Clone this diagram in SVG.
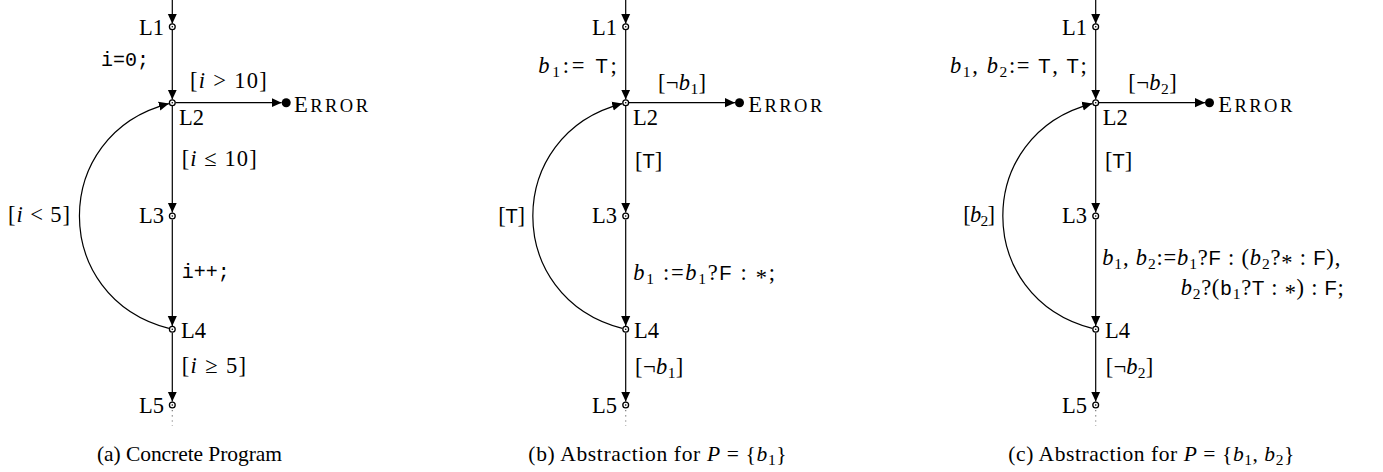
<svg xmlns="http://www.w3.org/2000/svg" width="1383" height="472" viewBox="0 0 1383 472">
<style>
text{font-family:"Liberation Serif","Times New Roman",serif;font-size:22.5px;fill:#000}
.it{font-style:italic}
.sf{font-family:"Liberation Sans",Arial,sans-serif;font-size:20px}
.tt{font-family:"Liberation Mono","Courier New",monospace;font-size:20px}
.sub{font-size:15.5px}
.sc{font-size:18.5px}
.cap{font-size:21.5px}
.edge{fill:none;stroke:#000;stroke-width:1.2}
.dots{fill:none;stroke:#777;stroke-width:1.2;stroke-dasharray:1.2 4}
.loc{fill:#fff;stroke:#000;stroke-width:1.3}
.ctr{fill:#000}
</style>
<defs>
<marker id="arr" viewBox="0 -5 10 10" refX="10" refY="0" markerWidth="10" markerHeight="10" markerUnits="userSpaceOnUse" orient="auto">
<path d="M0,-4.6 L10,0 L0,4.6 Z" fill="#000"/>
</marker>
</defs>

<!-- ===== Panel (a) ===== -->
<g id="connectors-a">
<path class="edge" d="M172.3,0 V23.7" marker-end="url(#arr)"/>
<path class="edge" d="M172.3,30 V99.5" marker-end="url(#arr)"/>
<path class="edge" d="M172.3,106 V212.6" marker-end="url(#arr)"/>
<path class="edge" d="M172.3,219.5 V325.9" marker-end="url(#arr)"/>
<path class="edge" d="M172.3,332.8 V401.6" marker-end="url(#arr)"/>
<path class="edge" d="M175.6,102.7 H281.6" marker-end="url(#arr)"/>
<path class="edge" d="M168.9,328.4 C49.6,297.7 49.6,134.3 168.9,103.6" marker-end="url(#arr)"/>
<path class="dots" d="M172.3,410 V426"/>
<text class="tt" x="149" y="66" text-anchor="end">i=0;</text>
<text x="190" y="88" textLength="76.7">[<tspan class="it">i</tspan> &gt; 10]</text>
<text x="181.7" y="166" textLength="75">[<tspan class="it">i</tspan> ≤ 10]</text>
<text class="tt" x="181.7" y="278">i++;</text>
<text x="181.7" y="373" textLength="64.3">[<tspan class="it">i</tspan> ≥ 5]</text>
<text x="70" y="222" text-anchor="end" textLength="62">[<tspan class="it">i</tspan> &lt; 5]</text>
</g>
<g id="a-L1"><circle class="loc" cx="172.3" cy="26.7" r="2.9"/><circle class="ctr" cx="172.3" cy="26.7" r="0.8"/><text x="164" y="35" text-anchor="end">L1</text></g>
<g id="a-L2"><circle class="loc" cx="172.3" cy="102.7" r="2.9"/><circle class="ctr" cx="172.3" cy="102.7" r="0.8"/><text x="179" y="125">L2</text></g>
<g id="a-L3"><circle class="loc" cx="172.3" cy="216" r="2.9"/><circle class="ctr" cx="172.3" cy="216" r="0.8"/><text x="164" y="223.3" text-anchor="end">L3</text></g>
<g id="a-L4"><circle class="loc" cx="172.3" cy="329.3" r="2.9"/><circle class="ctr" cx="172.3" cy="329.3" r="0.8"/><text x="181" y="337.7">L4</text></g>
<g id="a-L5"><circle class="loc" cx="172.3" cy="405" r="2.9"/><circle class="ctr" cx="172.3" cy="405" r="0.8"/><text x="164" y="413.3" text-anchor="end">L5</text></g>
<g id="a-error"><circle cx="286.2" cy="102.7" r="4.5" fill="#000"/><text x="294" y="111.7" textLength="74">E<tspan class="sc">RROR</tspan></text></g>
<text class="cap" x="97" y="461" textLength="185">(a) Concrete Program</text>

<!-- ===== Panel (b) ===== -->
<g id="connectors-b">
<path class="edge" d="M625.7,0 V23.7" marker-end="url(#arr)"/>
<path class="edge" d="M625.7,30 V99.5" marker-end="url(#arr)"/>
<path class="edge" d="M625.7,106 V212.6" marker-end="url(#arr)"/>
<path class="edge" d="M625.7,219.5 V325.9" marker-end="url(#arr)"/>
<path class="edge" d="M625.7,332.8 V401.6" marker-end="url(#arr)"/>
<path class="edge" d="M629,102.7 H735" marker-end="url(#arr)"/>
<path class="edge" d="M622.3,328.4 C503,297.7 503,134.3 622.3,103.6" marker-end="url(#arr)"/>
<path class="dots" d="M625.7,410 V426"/>
<text x="616.7" y="73.3" text-anchor="end" textLength="78.4"><tspan class="it">b</tspan><tspan class="sub" dy="4">1</tspan><tspan dy="-4">:= </tspan><tspan class="sf">T</tspan>;</text>
<text x="658" y="90" textLength="48">[¬<tspan class="it">b</tspan><tspan class="sub" dy="4">1</tspan><tspan dy="-4">]</tspan></text>
<text x="635" y="167.5" textLength="27.3">[<tspan class="sf">T</tspan>]</text>
<text x="525" y="222.5" text-anchor="end" textLength="26.7">[<tspan class="sf">T</tspan>]</text>
<text x="633.3" y="280" textLength="141.7"><tspan class="it">b</tspan><tspan class="sub" dy="4">1</tspan><tspan dy="-4"> :=</tspan><tspan class="it">b</tspan><tspan class="sub" dy="4">1</tspan><tspan dy="-4">?</tspan><tspan class="sf">F</tspan> : <tspan dy="5">*</tspan><tspan dy="-5">;</tspan></text>
<text x="635" y="374" textLength="48.3">[¬<tspan class="it">b</tspan><tspan class="sub" dy="4">1</tspan><tspan dy="-4">]</tspan></text>
</g>
<g id="b-L1"><circle class="loc" cx="625.7" cy="26.7" r="2.9"/><circle class="ctr" cx="625.7" cy="26.7" r="0.8"/><text x="617" y="35" text-anchor="end">L1</text></g>
<g id="b-L2"><circle class="loc" cx="625.7" cy="102.7" r="2.9"/><circle class="ctr" cx="625.7" cy="102.7" r="0.8"/><text x="633" y="125">L2</text></g>
<g id="b-L3"><circle class="loc" cx="625.7" cy="216" r="2.9"/><circle class="ctr" cx="625.7" cy="216" r="0.8"/><text x="617" y="223.3" text-anchor="end">L3</text></g>
<g id="b-L4"><circle class="loc" cx="625.7" cy="329.3" r="2.9"/><circle class="ctr" cx="625.7" cy="329.3" r="0.8"/><text x="634" y="337.7">L4</text></g>
<g id="b-L5"><circle class="loc" cx="625.7" cy="405" r="2.9"/><circle class="ctr" cx="625.7" cy="405" r="0.8"/><text x="617" y="413.3" text-anchor="end">L5</text></g>
<g id="b-error"><circle cx="739.5" cy="102.7" r="4.5" fill="#000"/><text x="748.3" y="111.7" textLength="74">E<tspan class="sc">RROR</tspan></text></g>
<text class="cap" x="528.3" y="460.5" textLength="258.4">(b) Abstraction for <tspan class="it">P</tspan> = {<tspan class="it">b</tspan><tspan class="sub" dy="4">1</tspan><tspan dy="-4">}</tspan></text>

<!-- ===== Panel (c) ===== -->
<g id="connectors-c">
<path class="edge" d="M1095.7,0 V23.7" marker-end="url(#arr)"/>
<path class="edge" d="M1095.7,30 V99.5" marker-end="url(#arr)"/>
<path class="edge" d="M1095.7,106 V212.6" marker-end="url(#arr)"/>
<path class="edge" d="M1095.7,219.5 V325.9" marker-end="url(#arr)"/>
<path class="edge" d="M1095.7,332.8 V401.6" marker-end="url(#arr)"/>
<path class="edge" d="M1099,102.7 H1205" marker-end="url(#arr)"/>
<path class="edge" d="M1092.3,328.4 C973,297.7 973,134.3 1092.3,103.6" marker-end="url(#arr)"/>
<path class="dots" d="M1095.7,410 V426"/>
<text x="1086.7" y="73.3" text-anchor="end" textLength="136.7"><tspan class="it">b</tspan><tspan class="sub" dy="4">1</tspan><tspan dy="-4">, </tspan><tspan class="it">b</tspan><tspan class="sub" dy="4">2</tspan><tspan dy="-4">:= </tspan><tspan class="sf">T</tspan>, <tspan class="sf">T</tspan>;</text>
<text x="1128.3" y="90" textLength="48.4">[¬<tspan class="it">b</tspan><tspan class="sub" dy="4">2</tspan><tspan dy="-4">]</tspan></text>
<text x="1105" y="167.5" textLength="27.3">[<tspan class="sf">T</tspan>]</text>
<text x="995" y="222" text-anchor="end" textLength="31.7">[<tspan class="it">b</tspan><tspan class="sub" dy="4">2</tspan><tspan dy="-4">]</tspan></text>
<text x="1102.3" y="265" textLength="238"><tspan class="it">b</tspan><tspan class="sub" dy="4">1</tspan><tspan dy="-4">, </tspan><tspan class="it">b</tspan><tspan class="sub" dy="4">2</tspan><tspan dy="-4">:=</tspan><tspan class="it">b</tspan><tspan class="sub" dy="4">1</tspan><tspan dy="-4">?</tspan><tspan class="sf">F</tspan> : (<tspan class="it">b</tspan><tspan class="sub" dy="4">2</tspan><tspan dy="-4">?</tspan><tspan dy="5">*</tspan><tspan dy="-5"> : </tspan><tspan class="sf">F</tspan>),</text>
<text x="1180.7" y="295" textLength="163"><tspan class="it">b</tspan><tspan class="sub" dy="4">2</tspan><tspan dy="-4">?(</tspan><tspan class="tt">b</tspan><tspan class="sub" dy="4">1</tspan><tspan dy="-4">?</tspan><tspan class="sf">T</tspan> : <tspan dy="5">*</tspan><tspan dy="-5">) : </tspan><tspan class="sf">F</tspan>;</text>
<text x="1105.7" y="374" textLength="47.6">[¬<tspan class="it">b</tspan><tspan class="sub" dy="4">2</tspan><tspan dy="-4">]</tspan></text>
</g>
<g id="c-L1"><circle class="loc" cx="1095.7" cy="26.7" r="2.9"/><circle class="ctr" cx="1095.7" cy="26.7" r="0.8"/><text x="1087" y="35" text-anchor="end">L1</text></g>
<g id="c-L2"><circle class="loc" cx="1095.7" cy="102.7" r="2.9"/><circle class="ctr" cx="1095.7" cy="102.7" r="0.8"/><text x="1102.7" y="125">L2</text></g>
<g id="c-L3"><circle class="loc" cx="1095.7" cy="216" r="2.9"/><circle class="ctr" cx="1095.7" cy="216" r="0.8"/><text x="1087" y="223.3" text-anchor="end">L3</text></g>
<g id="c-L4"><circle class="loc" cx="1095.7" cy="329.3" r="2.9"/><circle class="ctr" cx="1095.7" cy="329.3" r="0.8"/><text x="1105" y="337.7">L4</text></g>
<g id="c-L5"><circle class="loc" cx="1095.7" cy="405" r="2.9"/><circle class="ctr" cx="1095.7" cy="405" r="0.8"/><text x="1087" y="413.3" text-anchor="end">L5</text></g>
<g id="c-error"><circle cx="1209.5" cy="102.7" r="4.5" fill="#000"/><text x="1218.3" y="111.7" textLength="74">E<tspan class="sc">RROR</tspan></text></g>
<text class="cap" x="1008.3" y="460.5" textLength="286">(c) Abstraction for <tspan class="it">P</tspan> = {<tspan class="it">b</tspan><tspan class="sub" dy="4">1</tspan><tspan dy="-4">, </tspan><tspan class="it">b</tspan><tspan class="sub" dy="4">2</tspan><tspan dy="-4">}</tspan></text>
</svg>
